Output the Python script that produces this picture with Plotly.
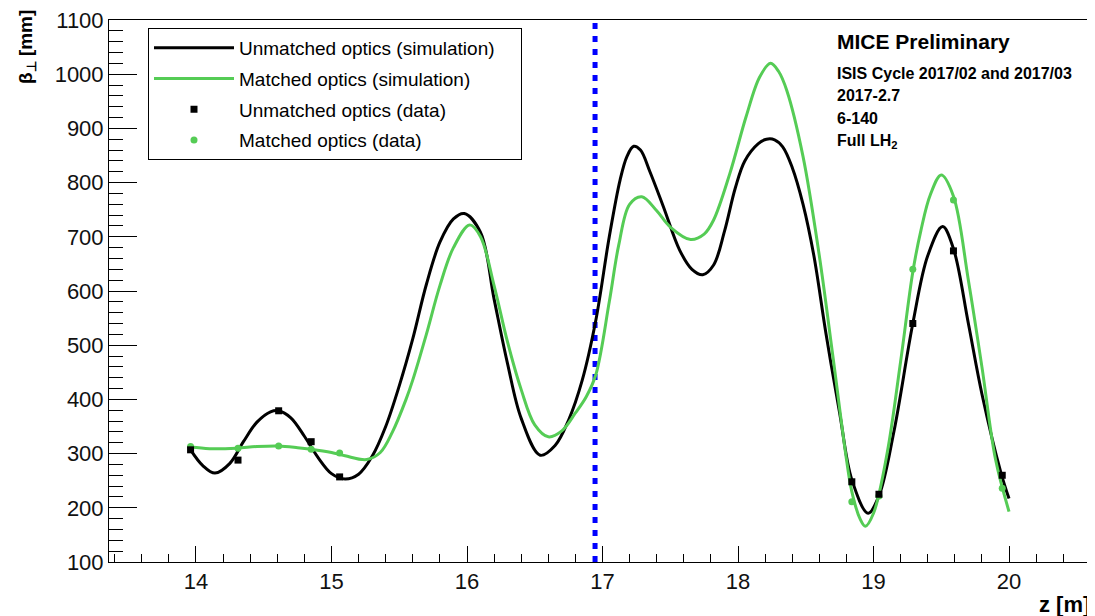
import plotly.graph_objects as go

# ---- data ----
z_unm_sim = [13.96, 14.05, 14.14, 14.25, 14.35, 14.45, 14.55, 14.61, 14.70, 14.80,
             14.90, 15.00, 15.10, 15.20, 15.30, 15.40, 15.50, 15.60, 15.70, 15.80,
             15.90, 15.98, 16.10, 16.20, 16.30, 16.40, 16.54, 16.65, 16.75, 16.85,
             16.95, 17.05, 17.13, 17.18, 17.23, 17.28, 17.35, 17.45, 17.57, 17.66,
             17.74, 17.82, 17.90, 17.98, 18.05, 18.15, 18.21, 18.27, 18.33, 18.40,
             18.48, 18.56, 18.65, 18.75, 18.84, 18.96, 19.04, 19.15, 19.29, 19.40,
             19.51, 19.59, 19.70, 19.80, 19.94, 20.00]
beta_unm_sim = [307, 278, 264, 282, 322, 358, 377, 379, 366, 332,
                293, 263, 253, 262, 295, 350, 425, 512, 612, 690,
                733, 743, 708, 585, 465, 365, 297, 315, 362, 435,
                545, 700, 805, 848, 867, 860, 820, 755, 675, 640,
                630, 648, 710, 790, 840, 872, 880, 879, 866, 828,
                760, 665, 520, 375, 252, 190, 222, 340, 540, 665,
                719, 678, 540, 410, 265, 217]

z_mat_sim = [13.96, 14.10, 14.30, 14.45, 14.61, 14.75, 14.85, 15.00, 15.10, 15.26,
             15.36, 15.45, 15.55, 15.60, 15.70, 15.80, 15.90, 16.02, 16.10, 16.20,
             16.30, 16.40, 16.50, 16.60, 16.70, 16.80, 16.88, 16.95, 17.05, 17.12,
             17.20, 17.29, 17.40, 17.50, 17.65, 17.75, 17.82, 17.94, 18.06, 18.16,
             18.24, 18.30, 18.36, 18.48, 18.60, 18.70, 18.80, 18.84, 18.90, 18.94,
             19.00, 19.10, 19.20, 19.29, 19.35, 19.42, 19.50, 19.59, 19.70, 19.80,
             19.90, 20.00]
beta_mat_sim = [312, 309, 310, 313, 314, 311, 308, 302, 296, 289,
                302, 340, 400, 436, 520, 610, 680, 722, 700, 610,
                505, 418, 353, 331, 342, 375, 405, 445, 580, 685,
                760, 774, 748, 718, 695, 705, 731, 817, 922, 995,
                1020, 1005, 970, 848, 665, 480, 290, 230, 180, 166,
                190, 300, 470, 635, 712, 778, 814, 775, 620, 460,
                290, 193]

z_data = [13.96, 14.31, 14.61, 14.85, 15.06, 18.84, 19.04, 19.29, 19.59, 19.95]
beta_unm_data = [307, 288, 379, 322, 257, 248, 225, 540, 674, 260]
beta_mat_data = [313, 310, 314, 308, 301, 211, 222, 640, 768, 236]

z_marker_line = 16.945
beta_range = [100, 1100]

NBSP = "\u00a0"
names = ["Unmatched optics (simulation)" + NBSP * 4, "Matched optics (simulation)",
         "Unmatched optics (data)", "Matched optics (data)"]

GREEN = "#55CC55"
FONT = "Liberation Sans"

fig = go.Figure()

# blue dashed vertical line
fig.add_trace(go.Scatter(x=[z_marker_line, z_marker_line], y=beta_range, mode="lines",
                         line=dict(color="#0000FF", width=5, dash="6px,7px"),
                         showlegend=False, hoverinfo="skip"))

fig.add_trace(go.Scatter(x=z_unm_sim, y=beta_unm_sim, mode="lines", name=names[0],
                         line=dict(color="black", width=3, shape="spline", smoothing=1.0),
                         legendrank=1, legendgroup="a"))
fig.add_trace(go.Scatter(x=z_mat_sim, y=beta_mat_sim, mode="lines", name=names[1],
                         line=dict(color=GREEN, width=3, shape="spline", smoothing=1.0),
                         legendrank=2, legendgroup="b"))
fig.add_trace(go.Scatter(x=z_data, y=beta_mat_data, mode="markers", name=names[3],
                         marker=dict(color=GREEN, size=7, symbol="circle"),
                         legendrank=4, legendgroup="d"))
fig.add_trace(go.Scatter(x=z_data, y=beta_unm_data, mode="markers", name=names[2],
                         marker=dict(color="black", size=7, symbol="square"),
                         legendrank=3, legendgroup="c"))

# the page body adds an 8px offset; size the figure so it fills the window
OFF = 8
W, H = 1095 - OFF, 616 - OFF
L, R, T, B = 101, 4, 12, 54
pw, ph = W - L - R, H - T - B

def px(x):
    return (x - OFF - L) / pw

def py(y):
    return (H - B - (y - OFF)) / ph

axis_common = dict(showline=True, linecolor="black", linewidth=1, mirror=True,
                   ticks="inside", tickcolor="black", showgrid=False, zeroline=False,
                   ticklabeloverflow="allow", automargin=False,
                   tickfont=dict(family=FONT, size=22, color="#111"))

fig.update_layout(
    width=W, height=H,
    margin=dict(l=L, r=R, t=T, b=B, autoexpand=False),
    plot_bgcolor="white", paper_bgcolor="white",
    xaxis=dict(range=[13.358, 20.605], dtick=1, ticklen=16,
               minor=dict(dtick=0.2, ticklen=8, ticks="inside", tickcolor="black"),
               **axis_common),
    yaxis=dict(range=beta_range, dtick=100, ticklen=28,
               minor=dict(dtick=20, ticklen=14, ticks="inside", tickcolor="black"),
               **axis_common),
    legend=dict(x=px(148), y=py(28), xanchor="left", yanchor="top",
                bordercolor="black", borderwidth=1, bgcolor="white",
                font=dict(family=FONT, size=19, color="black"),
                itemwidth=80, tracegroupgap=3),
    showlegend=True,
)

ann = [
    dict(text="<b>MICE Preliminary</b>", x=px(835), y=py(41), size=21),
    dict(text="<b>ISIS Cycle 2017/02 and 2017/03</b>", x=px(835), y=py(73), size=16),
    dict(text="<b>2017-2.7</b>", x=px(835), y=py(95), size=16),
    dict(text="<b>6-140</b>", x=px(835), y=py(118), size=16),
    dict(text="<b>Full LH<sub>2</sub></b>", x=px(835), y=py(141), size=16),
]
for a in ann:
    fig.add_annotation(text=a["text"], x=a["x"], y=a["y"], xref="paper", yref="paper",
                       xanchor="left", yanchor="middle", showarrow=False,
                       font=dict(family=FONT, size=a["size"], color="black"))

# axis titles
fig.add_annotation(text="<b>β<sub>⊥</sub> [mm]</b>", x=px(27), y=py(8), xref="paper", yref="paper",
                   xanchor="center", yanchor="top", textangle=-90, showarrow=False,
                   font=dict(family=FONT, size=19, color="black"))
fig.add_annotation(text="<b>z [m]</b>", x=px(1092), y=py(604), xref="paper", yref="paper",
                   xanchor="right", yanchor="middle", showarrow=False,
                   font=dict(family=FONT, size=22, color="black"))

fig.write_html("out.html")
